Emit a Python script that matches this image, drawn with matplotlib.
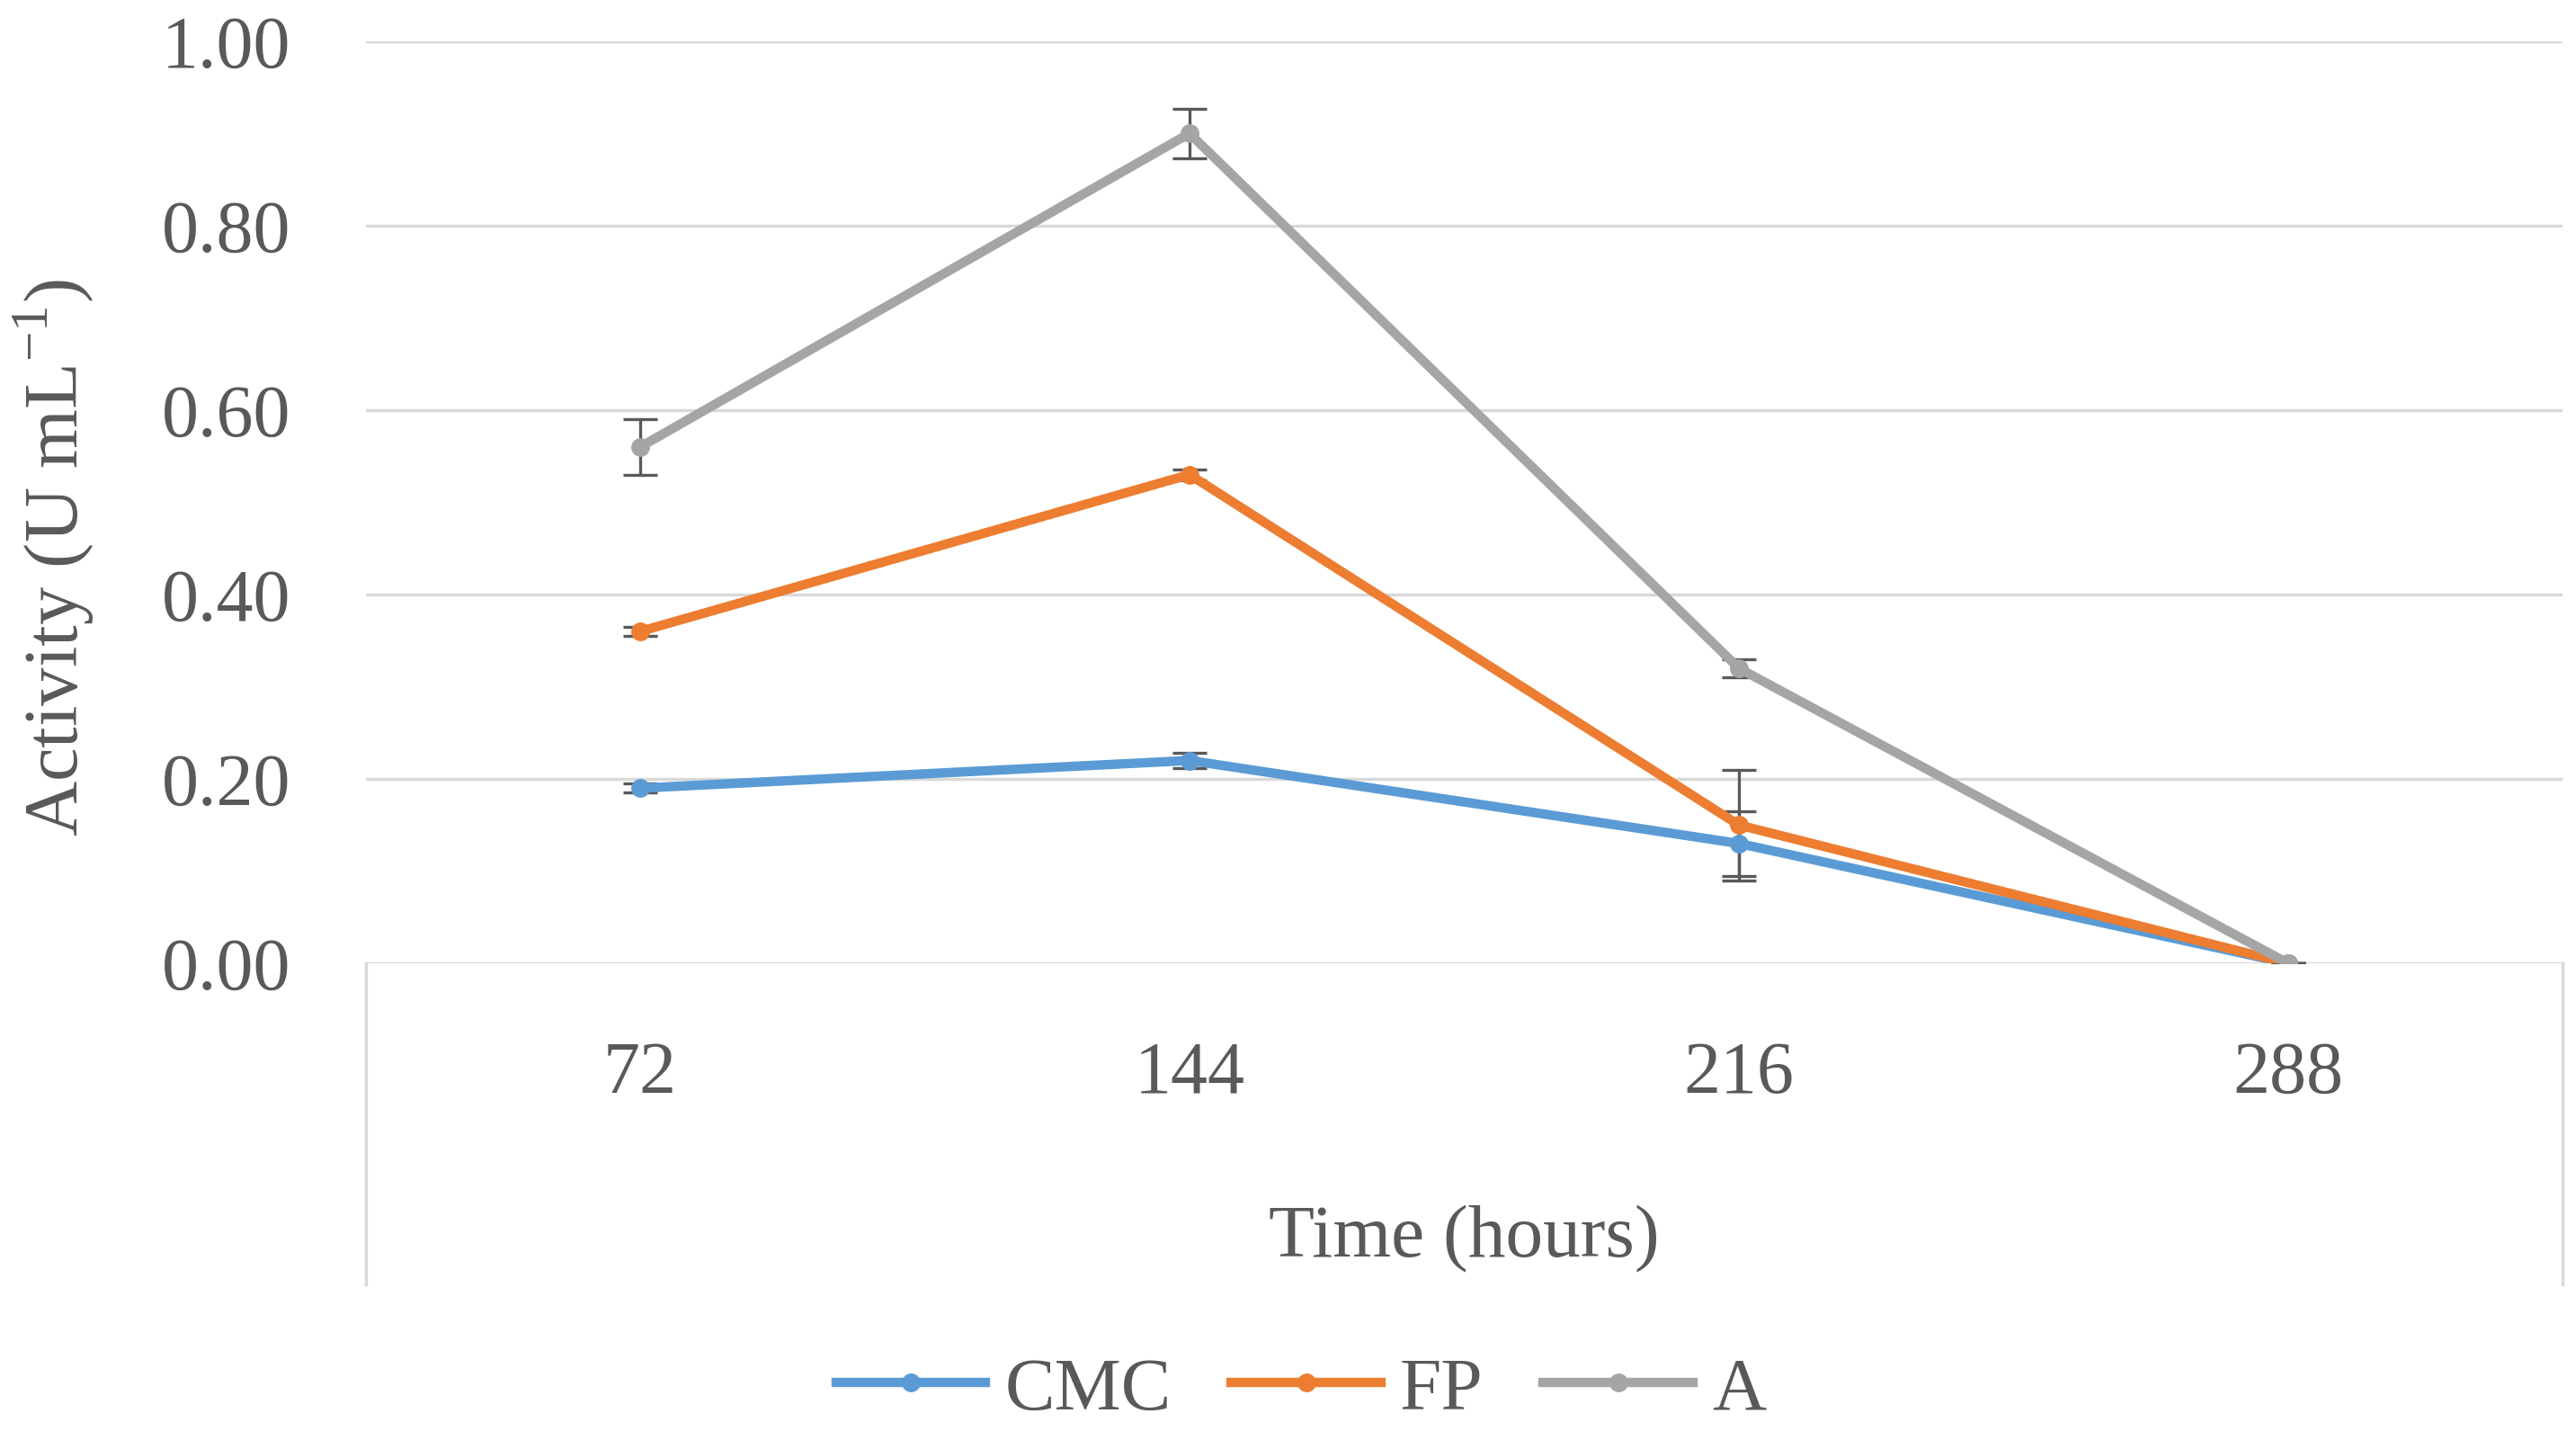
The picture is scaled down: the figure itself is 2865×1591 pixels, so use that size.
import numpy as np
import matplotlib
matplotlib.use('Agg')
from matplotlib import pyplot as plt

plt.rcParams['font.family'] = ['Liberation Serif', 'DejaVu Serif']
plt.rcParams['mathtext.fontset'] = 'custom'
plt.rcParams['mathtext.rm'] = 'Liberation Serif'

hours = [72, 144, 216, 288]
cmc = [0.19, 0.22, 0.13, 0.00]
fp = [0.36, 0.53, 0.15, 0.00]
a = [0.56, 0.90, 0.32, 0.00]
cmc_err = [0.005, 0.008, 0.035, 0.0]
fp_err = [0.005, 0.006, 0.06, 0.0]
a_err = [0.03, 0.027, 0.01, 0.0]

txt = '#595959'
fig = plt.figure(figsize=(28.65, 15.91), dpi=100)
ax = fig.add_axes([0.1419, 0.3268, 0.853, 0.6444])

series = [('CMC', cmc, cmc_err, '#5B9BD5'),
          ('FP', fp, fp_err, '#ED7D31'),
          ('A', a, a_err, '#A5A5A5')]
for name, vals, err, col in series:
    ax.errorbar(hours, vals, yerr=err, color=col, lw=7.5, marker='o', ms=14,
                ecolor='#595959', elinewidth=2.4, capsize=14, capthick=2.4,
                label=name, zorder=3)

ax.set_xlim(36, 324)
ax.set_ylim(0, 1.0)
ax.set_xticks(hours)
ax.set_xticklabels([str(h) for h in hours])
ax.set_yticks(np.arange(0, 1.01, 0.2))
ax.set_yticklabels(['%.2f' % v for v in np.arange(0, 1.01, 0.2)])
ax.grid(axis='y', color='#D9D9D9', lw=2.5)
ax.set_axisbelow(True)
for s in ax.spines.values():
    s.set_visible(False)
ax.tick_params(length=0, labelsize=59, colors=txt)
ax.tick_params(axis='x', pad=62)
ax.tick_params(axis='y', pad=60)

# category axis frame below the plot
for xf in (0, 1):
    ax.plot([xf, xf], [0, -0.348], transform=ax.transAxes, color='#D9D9D9',
            lw=2.5, clip_on=False)

ax.set_xlabel('Time (hours)', fontsize=60, color=txt)
ax.xaxis.set_label_coords(0.5, -0.262)
ax.set_ylabel('Activity (U mL$^{\\mathregular{-1}}$)', fontsize=61, color=txt)
ax.yaxis.set_label_coords(-0.123, 0.44)

handles, labels = ax.get_legend_handles_labels()
handles = [h[0] for h in handles]
fig.legend(handles, labels, loc='center', bbox_to_anchor=(0.505, 0.028),
           ncol=3, frameon=False, fontsize=60, labelcolor=txt,
           handlelength=2.0, handletextpad=0.25, columnspacing=0.8)

fig.savefig('out.png', dpi=100)
